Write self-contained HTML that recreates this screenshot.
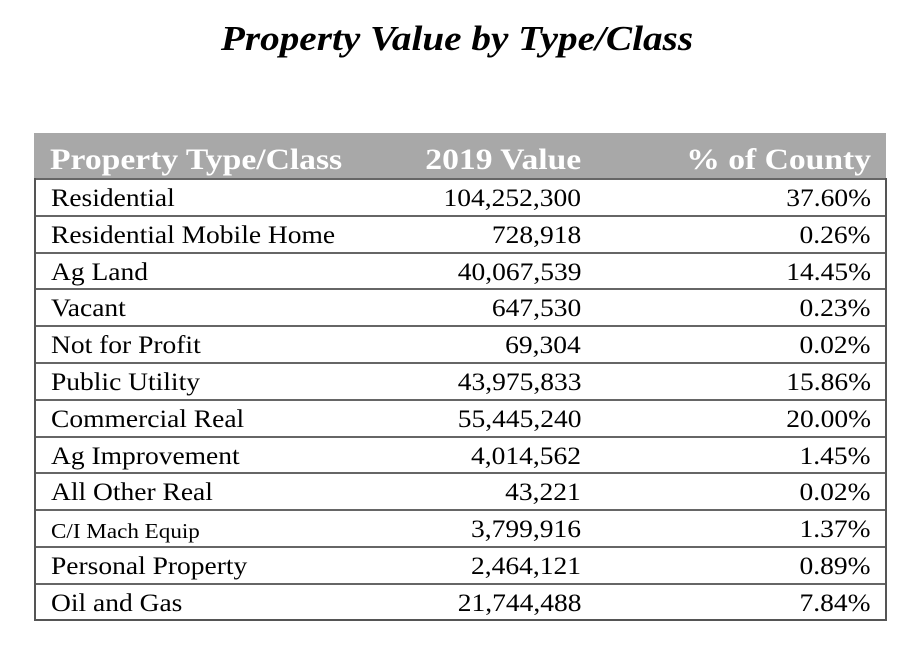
<!DOCTYPE html>
<html><head><style>
body{margin:0;width:914px;height:648px;background:#fff;position:relative;font-family:"Liberation Serif",serif;overflow:hidden}
.t{position:absolute;left:0;width:914px;top:19px;text-align:center;font-weight:bold;font-style:italic;font-size:35px;color:#000;transform:scaleX(1.12);transform-origin:center}
.hd{position:absolute;left:34px;top:133px;width:852px;height:46px;background:#a8a8a8}
.hd span,.r span{position:absolute;white-space:nowrap}
.hd span{color:#fff;font-weight:bold;font-size:30px;top:10px;transform:scaleX(1.12)}
.tb{position:absolute;left:34px;top:178px;width:849px;height:441px;border:2px solid #555;border-top:none}
.r{position:absolute;left:0;width:849px;height:37px;border-top:2px solid #666;box-sizing:border-box}
.r span{font-size:25px;top:5px;color:#000;transform:scaleX(1.1)}
.a{left:15px;transform-origin:left}.b{right:304px;transform-origin:right}.c{right:14px;transform-origin:right}
.hd .l{transform-origin:left}.hd .rr{transform-origin:right}
</style></head><body>
<div class="t">Property Value by Type/Class</div>
<div class="hd"><span class="l" style="left:16px">Property Type/Class</span><span class="rr" style="right:305px">2019 Value</span><span class="rr" style="right:15px">% of County</span></div>
<div class="tb">
<div class="r" style="top:0"><span class="a">Residential</span><span class="b">104,252,300</span><span class="c">37.60%</span></div>
<div class="r" style="top:36.8px"><span class="a">Residential Mobile Home</span><span class="b">728,918</span><span class="c">0.26%</span></div>
<div class="r" style="top:73.6px"><span class="a">Ag Land</span><span class="b">40,067,539</span><span class="c">14.45%</span></div>
<div class="r" style="top:110.4px"><span class="a">Vacant</span><span class="b">647,530</span><span class="c">0.23%</span></div>
<div class="r" style="top:147.2px"><span class="a">Not for Profit</span><span class="b">69,304</span><span class="c">0.02%</span></div>
<div class="r" style="top:184px"><span class="a">Public Utility</span><span class="b">43,975,833</span><span class="c">15.86%</span></div>
<div class="r" style="top:220.8px"><span class="a">Commercial Real</span><span class="b">55,445,240</span><span class="c">20.00%</span></div>
<div class="r" style="top:257.6px"><span class="a">Ag Improvement</span><span class="b">4,014,562</span><span class="c">1.45%</span></div>
<div class="r" style="top:294.4px"><span class="a">All Other Real</span><span class="b">43,221</span><span class="c">0.02%</span></div>
<div class="r" style="top:331.2px"><span class="a" style="font-size:21px;top:8px">C/I Mach Equip</span><span class="b">3,799,916</span><span class="c">1.37%</span></div>
<div class="r" style="top:368px"><span class="a">Personal Property</span><span class="b">2,464,121</span><span class="c">0.89%</span></div>
<div class="r" style="top:404.8px"><span class="a">Oil and Gas</span><span class="b">21,744,488</span><span class="c">7.84%</span></div>
</div>
</body></html>
